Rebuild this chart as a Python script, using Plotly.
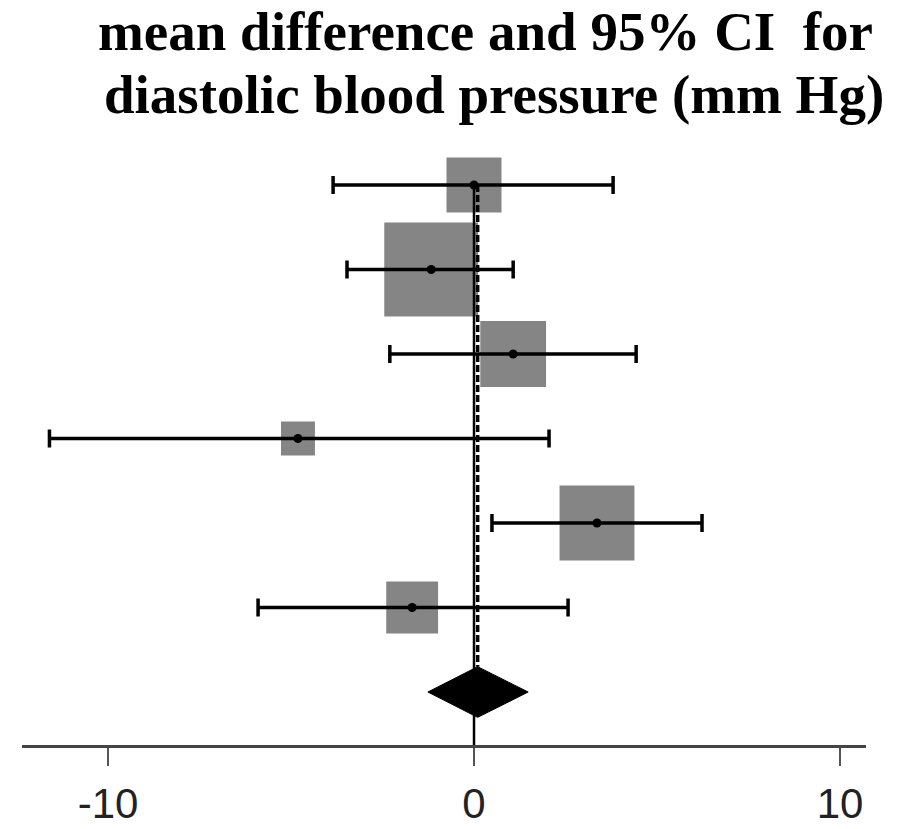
import numpy as np
import plotly.graph_objects as go

# Study-level mean differences (mm Hg) with 95% CI, top row first
mean_diff = [0.0, -1.17, 1.07, -4.81, 3.36, -1.69]
ci_low = [-3.85, -3.47, -2.30, -11.60, 0.49, -5.90]
ci_high = [3.80, 1.07, 4.43, 2.05, 6.23, 2.57]
weights = [11.8, 34.4, 16.9, 4.5, 21.9, 10.5]  # % weight of each study

# Pooled estimate and its 95% CI
pooled = 0.10
pooled_low = -1.26
pooled_high = 1.48

tick_vals = [-10, 0, 10]
tick_text = ["-10", "0", "10"]

title_lines = ["mean difference and 95% CI\u00a0 for",
               "diastolic blood pressure (mm Hg)"]

n = len(mean_diff)
rows = np.arange(n + 1, 1, -1)  # study rows from top to bottom
pooled_row = 1

box_size = 16.0 * np.sqrt(np.array(weights))
err_plus = np.array(ci_high) - np.array(mean_diff)
err_minus = np.array(mean_diff) - np.array(ci_low)

fig = go.Figure()

# weight boxes
fig.add_trace(go.Scatter(
    x=mean_diff, y=rows, mode="markers",
    marker=dict(symbol="square", size=box_size, color="#858585",
                opacity=1, line=dict(width=0)),
    hoverinfo="skip", showlegend=False,
))

# confidence intervals with point estimates
fig.add_trace(go.Scatter(
    x=mean_diff, y=rows, mode="markers",
    marker=dict(symbol="circle", size=9, color="black", opacity=1),
    error_x=dict(type="data", symmetric=False, array=err_plus,
                 arrayminus=err_minus, color="black", thickness=3.5, width=9),
    showlegend=False,
))

# pooled diamond
dh = 0.30
fig.add_trace(go.Scatter(
    x=[pooled_low, pooled, pooled_high, pooled, pooled_low],
    y=[pooled_row, pooled_row + dh, pooled_row, pooled_row - dh, pooled_row],
    mode="lines", fill="toself", fillcolor="black",
    line=dict(color="black", width=1), showlegend=False,
))

y_min, y_max = 0.373, 7.414

# line of no effect
fig.add_shape(type="line", x0=0, x1=0, y0=rows[0], y1=y_min,
              line=dict(color="black", width=2.5), layer="above")
# pooled estimate reference line
fig.add_shape(type="line", x0=pooled, x1=pooled, y0=rows[0],
              y1=pooled_row + dh,
              line=dict(color="black", width=3.5, dash="7px,3px"),
              layer="above")

# two-line heading
for text, xp, yp in zip(title_lines, [0.549, 0.559], [1.200, 1.094]):
    fig.add_annotation(
        text=text, xref="paper", yref="paper", x=xp, y=yp,
        xanchor="center", yanchor="middle", showarrow=False,
        font=dict(family="Liberation Serif", size=55, color="black",
                  weight="bold"),
    )

fig.update_layout(
    width=907, height=829,
    margin=dict(l=22, r=41, t=150, b=84),
    paper_bgcolor="white", plot_bgcolor="white",
    xaxis=dict(
        range=[-12.35, 10.71], tickvals=tick_vals, ticktext=tick_text,
        showline=True, linecolor="#444444", linewidth=2.5,
        ticks="outside", ticklen=18, tickwidth=2, tickcolor="#555555",
        showgrid=False, zeroline=False, automargin=False,
        ticklabelstandoff=2,
        tickfont=dict(family="Liberation Sans", size=42, color="#222222"),
    ),
    yaxis=dict(range=[y_min, y_max], visible=False, showgrid=False,
               zeroline=False, automargin=False),
)

fig.write_html("out.html")
